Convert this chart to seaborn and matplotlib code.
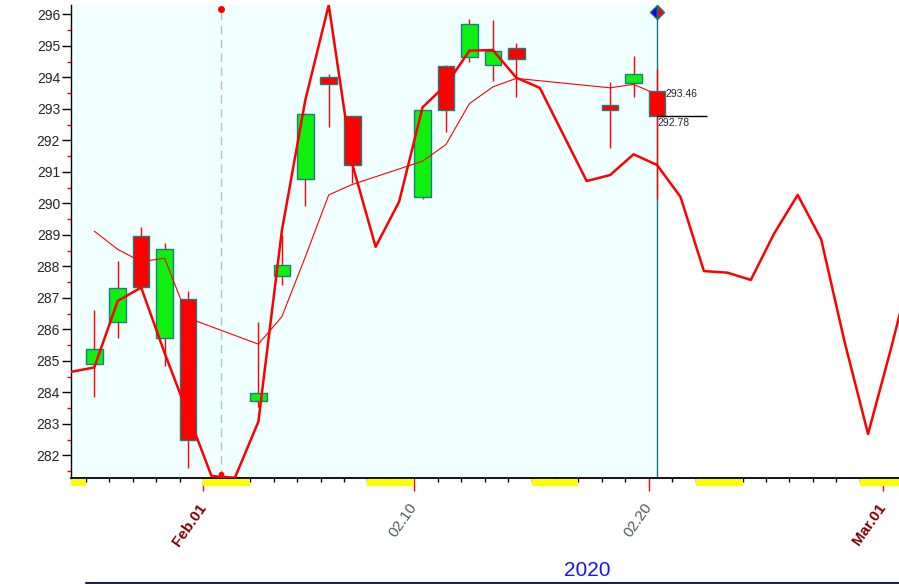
import numpy as np
import pandas as pd
import matplotlib
matplotlib.use("Agg")
import matplotlib.pyplot as plt
import matplotlib.dates as mdates
from matplotlib.patches import Rectangle
from matplotlib.lines import Line2D
import seaborn as sns

# daily candles (trading days only)
candle_dates = ['2020-01-27', '2020-01-28', '2020-01-29', '2020-01-30', '2020-01-31',
                '2020-02-03', '2020-02-04', '2020-02-05', '2020-02-06', '2020-02-07',
                '2020-02-10', '2020-02-11', '2020-02-12', '2020-02-13', '2020-02-14',
                '2020-02-18', '2020-02-19', '2020-02-20']
opens = [284.89, 286.24, 288.98, 285.71, 286.95, 283.74, 287.71, 290.79, 294.00, 292.76,
         290.21, 294.36, 294.65, 294.41, 294.95, 293.14, 293.81, 293.56]
closes = [285.37, 287.30, 287.33, 288.54, 282.48, 283.99, 288.03, 292.85, 293.78, 291.21,
          292.96, 292.96, 295.71, 294.83, 294.57, 292.98, 294.10, 292.78]
highs = [286.63, 288.17, 289.26, 288.75, 287.22, 286.24, 288.99, 292.88, 294.10, 292.78,
         292.98, 294.39, 295.85, 295.82, 295.10, 293.86, 294.69, 294.26]
lows = [283.86, 285.73, 287.33, 284.84, 281.61, 283.52, 287.41, 289.92, 292.43, 290.65,
        290.14, 292.27, 294.50, 293.88, 293.38, 291.75, 293.38, 290.14]

# thin line (average of the candles)
avg_line = [289.12, 288.54, 288.15, 288.26, 286.36, 285.53, 286.40, 288.30, 290.27, 290.60,
            291.34, 291.87, 293.17, 293.70, 293.97, 293.67, 293.78, 293.46]

# thick line, one value per calendar day
proj_start = '2020-01-26'
proj_line = [284.65, 284.79, 286.90, 287.33, 285.25, 283.30, 281.34, 281.29, 283.07, 289.13,
             293.28, 296.30, 291.26, 288.62, 290.05, 293.05, 293.76, 294.85, 294.87, 293.99,
             293.67, 292.19, 290.71, 290.90, 291.56, 291.22, 290.21, 287.85, 287.80, 287.57,
             289.05, 290.27, 288.86, 285.60, 282.68, 285.45, 288.40]

label_dates = ['2020-02-01', '2020-02-10', '2020-02-20', '2020-03-01']
label_texts = ['Feb.01', '02.10', '02.20', 'Mar.01']
weekend_starts = ['2020-01-25', '2020-02-01', '2020-02-08', '2020-02-15', '2020-02-22', '2020-02-29']

shift = pd.Timedelta(hours=8.4)
cx = pd.to_datetime(candle_dates) + shift
candles = pd.DataFrame({'date': cx, 'open': opens, 'close': closes, 'high': highs, 'low': lows, 'avg': avg_line})
proj = pd.DataFrame({'date': pd.date_range(proj_start, periods=len(proj_line), freq='D') + shift,
                     'value': proj_line})

sns.set_style("white")
plt.rcParams['font.family'] = ['Liberation Sans', 'DejaVu Sans']

fig = plt.figure(figsize=(8.99, 5.84), dpi=100)
ax = fig.add_axes([70.5 / 899, 1 - 478.3 / 584, 1 - 70.5 / 899, (478.3 - 5) / 584])

base = pd.Timestamp('2020-02-01')
x0 = base + pd.Timedelta(days=-5.663)
x1 = base + pd.Timedelta(days=29.67)
cur = cx[-1]
cursor = base + pd.Timedelta(days=0.755)

ax.set_facecolor('white')
ax.axvspan(x0, cur, color='#f0ffff', zorder=0, lw=0)

# cursor and current-day lines
ax.axvline(cursor, ymax=0.9915, color='#bdbdbd', lw=1, ls=(0, (6, 4)), zorder=1)
ax.plot([cursor], [296.17], 'o', color='red', ms=4, zorder=6, clip_on=False)
ax.plot([cursor], [281.42], 'o', color='red', ms=3, zorder=6)
ax.axvline(cur, ymax=0.985, color='#107878', lw=1, zorder=1.5)

# candles
up = candles['close'] >= candles['open']
body_col = np.where(up, '#10f010', '#ff0000')
ax.vlines(candles['date'], candles['low'], candles['high'], color='red', lw=1, zorder=2)
ax.bar(candles['date'], candles['close'] - candles['open'], bottom=candles['open'],
       width=0.71, color=body_col, edgecolor='#1a7f7f', linewidth=1, zorder=3)

sns.lineplot(data=proj, x='date', y='value', ax=ax, color='red', lw=1.8, zorder=4)
sns.lineplot(data=candles, x='date', y='avg', ax=ax, color='red', lw=0.8, zorder=4)

ax.plot([cur], [296.07], marker='D', ms=7, fillstyle='left', markerfacecolor='blue',
        markerfacecoloralt='red', markeredgecolor='#107878', mew=1, zorder=7, clip_on=False)

# last close marker
ax.hlines(closes[-1], cur, cur + pd.Timedelta(days=2.13), color='black', lw=1, zorder=5)
ax.text(cur + pd.Timedelta(days=0.34), avg_line[-1], '%.2f' % avg_line[-1], fontsize=7.5,
        va='center', ha='left', zorder=6)
ax.text(cur + pd.Timedelta(days=0.03), closes[-1] - 0.22, '%.2f' % closes[-1], fontsize=7.5,
        va='center', ha='left', zorder=6)

# weekends below axis
tr = ax.get_xaxis_transform()
xl0, xl1 = mdates.date2num(x0), mdates.date2num(x1)
for s in weekend_starts:
    a = mdates.date2num(pd.Timestamp(s))
    b = a + 2
    a, b = max(a, xl0), min(b, xl1)
    ax.add_patch(Rectangle((a, -0.0163), b - a, 0.0148, transform=tr, color='yellow',
                           lw=0, clip_on=False, zorder=1))

ax.set_xlim(x0, x1)
ax.set_ylim(281.27, 296.3)
ax.set_xlabel('')
ax.set_ylabel('')

ax.set_yticks(np.arange(282, 297))
ax.set_yticks(np.arange(281.5, 296.5, 1), minor=True)
ax.tick_params(axis='y', which='major', length=6.5, width=1, color='black', labelsize=10, pad=1, left=True)
ax.tick_params(axis='y', which='minor', length=2.7, width=1, color='red', left=True)

ax.set_xticks(pd.to_datetime(label_dates))
ax.set_xticklabels(label_texts)
ax.xaxis.set_minor_locator(mdates.DayLocator())
ax.tick_params(axis='x', which='major', length=9, width=1, color='red', pad=10, bottom=True)
ax.tick_params(axis='x', which='minor', length=3, width=1, color='black', bottom=True)
for lab, txt in zip(ax.get_xticklabels(), label_texts):
    lab.set_rotation(55)
    lab.set_ha('right')
    lab.set_va('center')
    lab.set_rotation_mode('anchor')
    lab.set_fontsize(11)
    if txt[0].isalpha():
        lab.set_color('#800000')
        lab.set_fontweight('bold')
    else:
        lab.set_color('#555a60')

for side in ['top', 'right']:
    ax.spines[side].set_visible(False)
ax.spines['left'].set_color('black')
ax.spines['bottom'].set_color('black')
ax.spines['left'].set_linewidth(1)
ax.spines['bottom'].set_linewidth(1.3)

fig.text(587 / 899, 1 - 571 / 584, '2020', color='#1414ff', fontsize=15, ha='center', va='center')
fig.add_artist(Line2D([86 / 899, 1], [1 - 582.5 / 584] * 2, color='#202040', lw=1.5))

fig.savefig('out.png', dpi=100)
